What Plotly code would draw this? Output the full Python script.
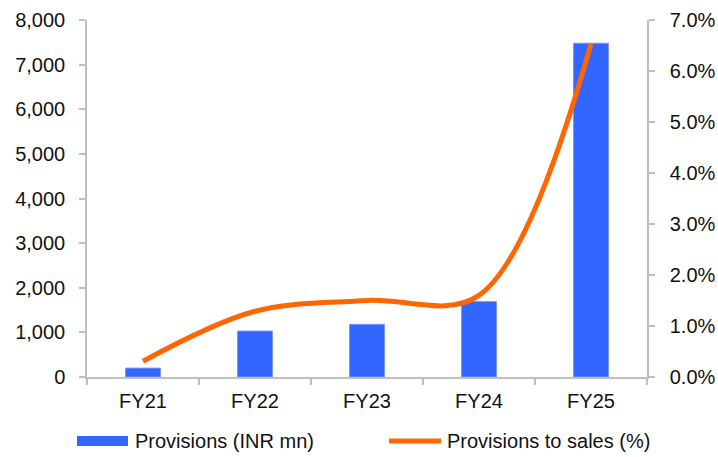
import plotly.graph_objects as go

# Fiscal years and series
years = ["FY21", "FY22", "FY23", "FY24", "FY25"]
provisions_inr_mn = [200, 1030, 1180, 1690, 7480]
provisions_to_sales_pct = [0.31, 1.29, 1.50, 1.60, 6.53]

bar_name = "Provisions (INR mn)"
line_name = "Provisions to sales (%)"

BLUE = "#3366FF"
ORANGE = "#FF6600"
AXIS = "#BFBFBF"
TEXT = "#111111"
FONT = "Liberation Sans, Arial, Helvetica, sans-serif"
FS = 20

W, H = 718, 457
L, R, T, B = 87, 71, 20, 80

fig = go.Figure()

fig.add_trace(go.Bar(
    x=years, y=provisions_inr_mn, name=bar_name,
    marker=dict(color=BLUE, line=dict(color="#7A96FF", width=1)),
    showlegend=False, yaxis="y",
))

fig.add_trace(go.Scatter(
    x=years, y=[v / 100 for v in provisions_to_sales_pct], name=line_name,
    mode="lines", line=dict(color=ORANGE, width=5, shape="spline", smoothing=1.0),
    showlegend=False, yaxis="y2",
))

axis_common = dict(
    automargin=False,
    showgrid=False, zeroline=False,
    showline=True, linecolor=AXIS, linewidth=1.5,
    ticks="outside", ticklen=6, tickcolor=AXIS, tickwidth=1.5,
    tickfont=dict(size=FS, color=TEXT),
)

fig.update_layout(
    width=W, height=H,
    margin=dict(l=L, r=R, t=T, b=B),
    paper_bgcolor="white", plot_bgcolor="white",
    font=dict(family=FONT, size=FS, color=TEXT),
    bargap=0.6875,
    xaxis=dict(type="category", tickson="boundaries", ticklabelstandoff=5, **axis_common),
    yaxis=dict(range=[0, 8000], dtick=1000, tickformat=",", ticklabelstandoff=10, **axis_common),
    yaxis2=dict(range=[0, 0.07], dtick=0.01, tickformat=".1%",
                overlaying="y", side="right", ticklabelstandoff=11, **axis_common),
)

# Legend drawn below the plot area
def px_x(px):
    return (px - L) / (W - L - R)

def px_y(py):
    return (H - B - py) / (H - T - B)

fig.add_shape(type="rect", xref="paper", yref="paper",
              x0=px_x(77), x1=px_x(128), y0=px_y(446), y1=px_y(436),
              fillcolor=BLUE, line=dict(width=0))
fig.add_annotation(xref="paper", yref="paper", x=px_x(133), y=px_y(441),
                   text=bar_name, showarrow=False, xanchor="left", yanchor="middle",
                   font=dict(size=FS, color=TEXT))
fig.add_shape(type="line", xref="paper", yref="paper",
              x0=px_x(389), x1=px_x(441), y0=px_y(441), y1=px_y(441),
              line=dict(color=ORANGE, width=5))
fig.add_annotation(xref="paper", yref="paper", x=px_x(445), y=px_y(441),
                   text=line_name, showarrow=False, xanchor="left", yanchor="middle",
                   font=dict(size=FS, color=TEXT))

fig.write_html("out.html")
